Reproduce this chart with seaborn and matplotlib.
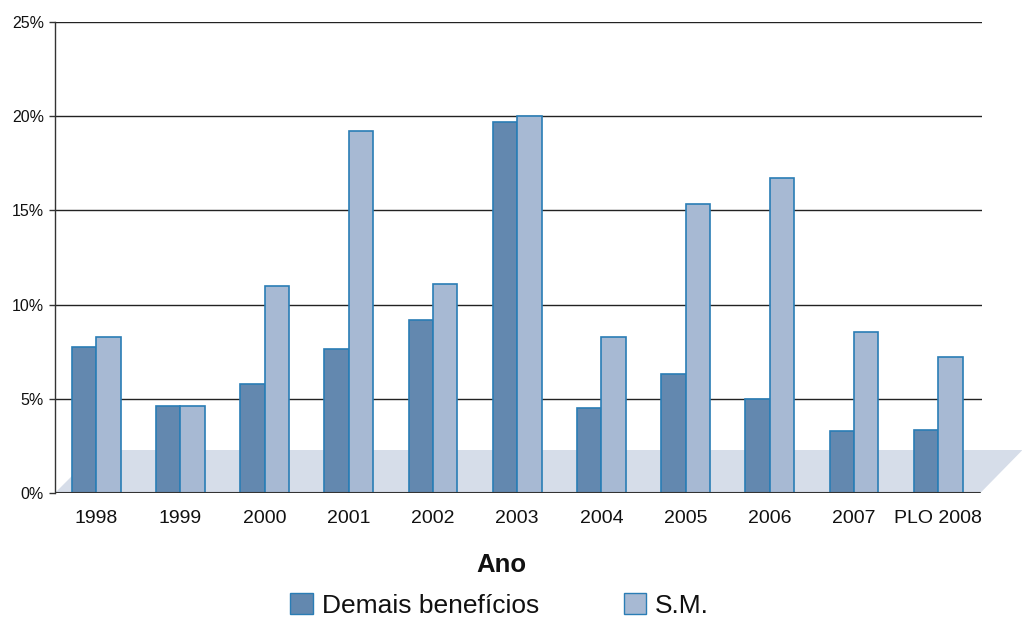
import pandas as pd
import numpy as np
import seaborn as sns
import matplotlib.pyplot as plt
from matplotlib.patches import Polygon, Patch
from matplotlib.ticker import FuncFormatter

# valores (%)
anos = ['1998', '1999', '2000', '2001', '2002', '2003', '2004', '2005', '2006', '2007', 'PLO 2008']
demais = [7.75, 4.6, 5.8, 7.65, 9.2, 19.7, 4.5, 6.3, 5.0, 3.3, 3.35]
sm = [8.3, 4.6, 11.0, 19.2, 11.1, 20.0, 8.3, 15.35, 16.7, 8.55, 7.2]
series = ['Demais benefícios', 'S.M.']
cores = ['#6388AF', '#A7B9D3']
borda = '#2A7DB5'

df = pd.DataFrame({'Ano': anos * 2,
                   'Valor': demais + sm,
                   'Serie': [series[0]] * len(anos) + [series[1]] * len(anos)})

sns.set_style('white')
plt.rcParams['font.family'] = ['Liberation Sans', 'DejaVu Sans']
plt.rcParams['text.color'] = '#111111'
plt.rcParams['xtick.color'] = '#111111'
plt.rcParams['ytick.color'] = '#111111'

fig = plt.figure(figsize=(10.22, 6.19), dpi=100)
ax = fig.add_axes([0.0538, 0.2036, 0.9071, 0.7609])

# chão "3D"
piso = Polygon([(-0.49, 0), (0.02, 2.28), (11.0, 2.28), (10.5, 0)], closed=True,
               facecolor='#D6DDE9', edgecolor='none', zorder=1, clip_on=False)
ax.add_patch(piso)

sns.barplot(data=df, x='Ano', y='Valor', hue='Serie', palette=cores, width=0.58,
            edgecolor=borda, linewidth=1.2, saturation=1, legend=False, ax=ax, zorder=3)

ax.set_xlim(-0.49, 10.52)
ax.set_ylim(0, 25)
ax.set_yticks([0, 5, 10, 15, 20, 25])
ax.yaxis.set_major_formatter(FuncFormatter(lambda v, p: f'{int(v)}%'))
for v in [5, 10, 15, 20, 25]:
    ax.axhline(v, color='#222222', lw=1.0, zorder=2)
ax.axhline(0, xmax=0.998, color='#333333', lw=1.5, zorder=4)

for s in ['top', 'right', 'bottom']:
    ax.spines[s].set_visible(False)
ax.spines['left'].set_color('#333333')
ax.spines['left'].set_linewidth(1.0)
ax.tick_params(axis='y', length=4.5, width=1, color='#333333', direction='out', pad=3.5,
               labelsize=11.5, left=True, labelcolor='#111111')
ax.tick_params(axis='x', length=0, pad=12.5, labelsize=14, labelcolor='#111111')
ax.set_xlabel('')
ax.set_ylabel('')

fig.text(0.491, 0.076, 'Ano', ha='center', va='baseline', fontsize=18.5, fontweight='bold', color='#111111')

handles = [Patch(facecolor=cores[i], edgecolor=borda, linewidth=1.0, label=series[i]) for i in range(2)]
fig.legend(handles=handles, loc='lower left', bbox_to_anchor=(0.284, 0.002), ncol=2, frameon=False,
           fontsize=19, handlelength=0.85, handleheight=0.85, handletextpad=0.35,
           columnspacing=3.2, borderpad=0, borderaxespad=0, labelcolor='#111111')

fig.savefig('out.png', dpi=100)
